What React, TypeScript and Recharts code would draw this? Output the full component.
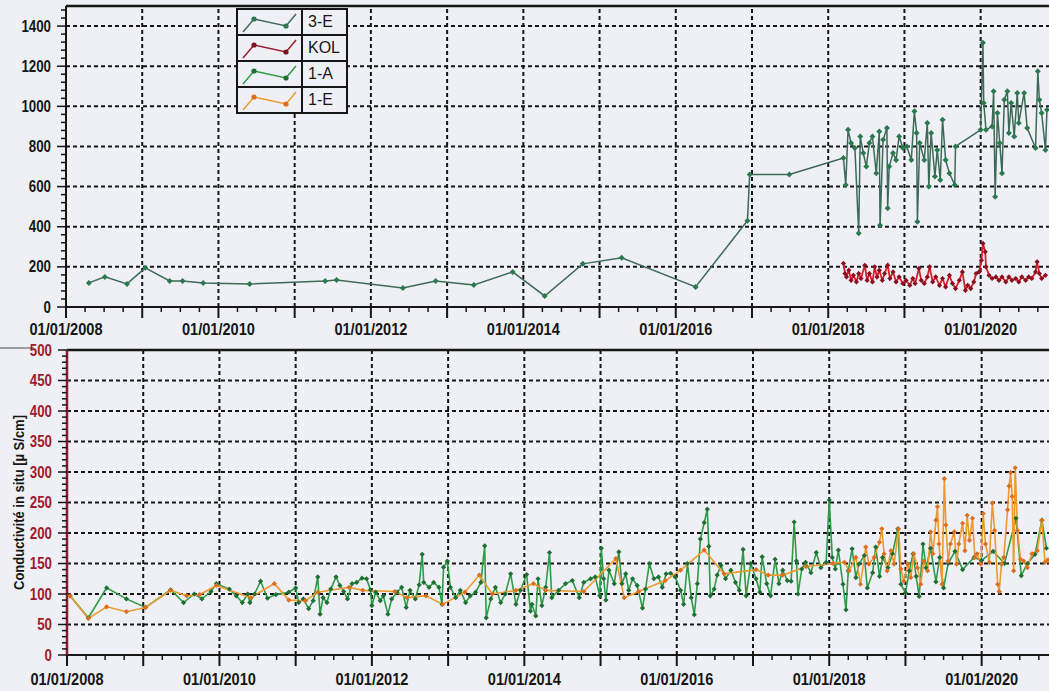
import React from 'react';
import { LineChart, Line, XAxis, YAxis, ReferenceLine, Legend } from 'recharts';

// axis labelling
const LABEL_YEARS = [2008, 2010, 2012, 2014, 2016, 2018, 2020];
const GRID_YEARS = [2009, 2010, 2011, 2012, 2013, 2014, 2015, 2016, 2017, 2018, 2019, 2020, 2021];
const TOP_Y_LABELS = [0, 200, 400, 600, 800, 1000, 1200, 1400];
const BOTTOM_Y_LABELS = [0, 50, 100, 150, 200, 250, 300, 350, 400, 450, 500];

const SERIES_NAMES = ['3-E', 'KOL', '1-A', '1-E'];
const SERIES_LINE = ['#3d6a57', '#9b1b2c', '#2e9b46', '#ec9a2e'];
const SERIES_DOT = ['#2a7a4e', '#7a1020', '#1e6f33', '#de6f1c'];

// 3-E (top panel)
const E3: [number, number][] = [
  [2008.30, 120], [2008.51, 150], [2008.80, 115], [2009.04, 195], [2009.36, 130], [2009.53, 130],
  [2009.80, 120], [2010.41, 115], [2011.40, 130], [2011.55, 135], [2012.42, 95], [2012.85, 130],
  [2013.35, 110], [2013.86, 175], [2014.28, 55], [2014.78, 215], [2015.29, 245], [2016.26, 100],
  [2016.94, 430], [2016.97, 660], [2017.49, 660], [2018.20, 742], [2018.23, 608], [2018.26, 883],
  [2018.30, 817], [2018.35, 792], [2018.40, 367], [2018.42, 850], [2018.46, 767], [2018.50, 700],
  [2018.54, 817], [2018.58, 850], [2018.63, 667], [2018.67, 875], [2018.68, 408], [2018.72, 833],
  [2018.77, 892], [2018.78, 492], [2018.80, 700], [2018.85, 767], [2018.89, 733], [2018.93, 850],
  [2018.98, 792], [2019.03, 800], [2019.09, 733], [2019.13, 975], [2019.16, 867], [2019.17, 425],
  [2019.20, 817], [2019.26, 733], [2019.30, 917], [2019.32, 600], [2019.35, 867], [2019.40, 650],
  [2019.43, 783], [2019.47, 633], [2019.50, 933], [2019.54, 733], [2019.59, 667], [2019.66, 608],
  [2019.67, 800], [2020.00, 883], [2020.03, 1317], [2020.04, 1017], [2020.07, 883], [2020.15, 900],
  [2020.17, 1075], [2020.19, 550], [2020.22, 967], [2020.25, 817], [2020.28, 667], [2020.31, 1033],
  [2020.35, 1075], [2020.37, 867], [2020.40, 1017], [2020.44, 850], [2020.48, 1067], [2020.50, 917],
  [2020.57, 1067], [2020.61, 892], [2020.72, 792], [2020.75, 1175], [2020.77, 1033], [2020.80, 967],
  [2020.85, 783], [2020.87, 983],
];

// KOL (top panel)
const KOL: [number, number][] = [
  [2018.20, 217], [2018.22, 167], [2018.24, 150], [2018.27, 183], [2018.30, 133], [2018.33, 158],
  [2018.37, 125], [2018.40, 167], [2018.43, 142], [2018.48, 208], [2018.51, 133], [2018.54, 167],
  [2018.58, 125], [2018.61, 200], [2018.64, 150], [2018.67, 183], [2018.71, 133], [2018.74, 167],
  [2018.78, 208], [2018.81, 142], [2018.85, 175], [2018.89, 125], [2018.93, 150], [2018.98, 117],
  [2019.02, 133], [2019.07, 108], [2019.11, 142], [2019.14, 117], [2019.19, 192], [2019.22, 133],
  [2019.26, 117], [2019.30, 150], [2019.33, 200], [2019.37, 125], [2019.41, 150], [2019.46, 108],
  [2019.50, 142], [2019.54, 100], [2019.59, 158], [2019.63, 117], [2019.67, 92], [2019.72, 133],
  [2019.76, 175], [2019.80, 83], [2019.83, 108], [2019.87, 92], [2019.91, 125], [2019.94, 167],
  [2019.98, 175], [2020.01, 233], [2020.03, 317], [2020.06, 275], [2020.07, 200], [2020.11, 158],
  [2020.15, 142], [2020.20, 150], [2020.24, 133], [2020.28, 150], [2020.33, 125], [2020.37, 150],
  [2020.41, 133], [2020.46, 142], [2020.50, 125], [2020.54, 150], [2020.59, 133], [2020.63, 150],
  [2020.67, 142], [2020.72, 175], [2020.74, 225], [2020.77, 167], [2020.80, 142], [2020.85, 158],
];

// 1-A (bottom panel)
const A1: [number, number][] = [
  [2008.04, 97], [2008.28, 61], [2008.52, 110], [2008.78, 92], [2009.03, 78], [2009.36, 107],
  [2009.53, 86], [2009.67, 100], [2009.77, 92], [2009.89, 104], [2009.96, 117], [2010.13, 108],
  [2010.22, 97], [2010.30, 86], [2010.37, 100], [2010.40, 86], [2010.46, 100], [2010.54, 121],
  [2010.63, 93], [2010.74, 99], [2010.91, 103], [2011.00, 110], [2011.04, 86], [2011.10, 92],
  [2011.17, 76], [2011.23, 89], [2011.29, 128], [2011.32, 67], [2011.36, 94], [2011.41, 86],
  [2011.46, 108], [2011.53, 128], [2011.58, 114], [2011.63, 104], [2011.68, 92], [2011.74, 117],
  [2011.80, 119], [2011.87, 126], [2011.93, 125], [2011.98, 107], [2012.00, 81], [2012.05, 103],
  [2012.11, 89], [2012.15, 97], [2012.21, 67], [2012.26, 92], [2012.33, 103], [2012.39, 111],
  [2012.45, 78], [2012.50, 106], [2012.57, 92], [2012.62, 115], [2012.66, 165], [2012.68, 119],
  [2012.75, 111], [2012.81, 119], [2012.88, 111], [2012.92, 83], [2012.94, 144], [2012.99, 154],
  [2013.03, 111], [2013.10, 94], [2013.16, 106], [2013.23, 86], [2013.29, 97], [2013.36, 103],
  [2013.43, 119], [2013.48, 179], [2013.50, 61], [2013.56, 92], [2013.62, 111], [2013.69, 86],
  [2013.75, 100], [2013.82, 133], [2013.89, 83], [2013.95, 106], [2014.03, 132], [2014.08, 72],
  [2014.10, 83], [2014.15, 64], [2014.18, 125], [2014.23, 81], [2014.28, 111], [2014.33, 168],
  [2014.36, 94], [2014.45, 106], [2014.54, 117], [2014.63, 122], [2014.72, 94], [2014.78, 119],
  [2014.87, 125], [2014.93, 128], [2014.99, 97], [2015.01, 175], [2015.04, 125], [2015.07, 90],
  [2015.11, 139], [2015.18, 117], [2015.24, 169], [2015.28, 117], [2015.33, 133], [2015.37, 106],
  [2015.42, 125], [2015.48, 114], [2015.55, 77], [2015.59, 108], [2015.64, 150], [2015.70, 125],
  [2015.76, 128], [2015.81, 111], [2015.86, 133], [2015.92, 134], [2015.98, 128], [2016.05, 106],
  [2016.09, 83], [2016.14, 150], [2016.19, 94], [2016.23, 66], [2016.27, 117], [2016.31, 190],
  [2016.36, 217], [2016.40, 239], [2016.42, 178], [2016.44, 97], [2016.49, 108], [2016.53, 131],
  [2016.58, 147], [2016.64, 125], [2016.71, 139], [2016.77, 119], [2016.82, 106], [2016.87, 173],
  [2016.91, 97], [2016.97, 150], [2017.04, 125], [2017.09, 103], [2017.12, 161], [2017.18, 117],
  [2017.23, 97], [2017.29, 157], [2017.34, 117], [2017.39, 139], [2017.45, 122], [2017.50, 121],
  [2017.54, 218], [2017.57, 154], [2017.59, 100], [2017.64, 141], [2017.69, 152], [2017.76, 135],
  [2017.83, 168], [2017.89, 143], [2017.96, 152], [2018.00, 254], [2018.04, 160], [2018.08, 141],
  [2018.12, 172], [2018.18, 116], [2018.22, 74], [2018.25, 138], [2018.30, 174], [2018.35, 127],
  [2018.39, 149], [2018.46, 163], [2018.50, 110], [2018.57, 135], [2018.61, 177], [2018.66, 129],
  [2018.70, 160], [2018.77, 143], [2018.83, 166], [2018.90, 207], [2018.94, 116], [2019.00, 102],
  [2019.05, 138], [2019.10, 166], [2019.14, 129], [2019.18, 96], [2019.23, 182], [2019.27, 143],
  [2019.33, 175], [2019.40, 120], [2019.45, 160], [2019.50, 110], [2019.56, 150], [2019.65, 170],
  [2019.75, 140], [2019.90, 160], [2020.00, 155], [2020.15, 170], [2020.30, 150], [2020.45, 224],
  [2020.52, 130], [2020.60, 150], [2020.70, 165], [2020.79, 221], [2020.85, 175],
];

// 1-E (bottom panel)
const E1: [number, number][] = [
  [2008.04, 97], [2008.28, 60], [2008.52, 79], [2008.78, 71], [2009.03, 78], [2009.36, 106],
  [2009.57, 97], [2009.74, 99], [2009.96, 114], [2010.41, 94], [2010.72, 117], [2010.91, 90],
  [2011.13, 89], [2011.29, 103], [2011.70, 111], [2011.88, 106], [2012.30, 104], [2012.46, 94],
  [2012.71, 97], [2012.93, 83], [2013.22, 103], [2013.41, 131], [2013.58, 100], [2013.89, 106],
  [2014.12, 117], [2014.28, 106], [2014.78, 104], [2015.20, 158], [2015.31, 94], [2015.50, 104],
  [2015.85, 122], [2016.05, 139], [2016.36, 172], [2016.62, 133], [2017.04, 140], [2017.20, 131],
  [2017.39, 131], [2017.70, 145], [2018.05, 150], [2018.20, 152], [2018.26, 138], [2018.35, 160],
  [2018.41, 116], [2018.48, 177], [2018.52, 149], [2018.59, 160], [2018.66, 185], [2018.69, 207],
  [2018.72, 166], [2018.76, 138], [2018.81, 171], [2018.85, 149], [2018.91, 207], [2018.94, 141],
  [2018.98, 121], [2019.03, 149], [2019.07, 127], [2019.11, 166], [2019.16, 143], [2019.20, 116],
  [2019.24, 154], [2019.29, 138], [2019.33, 202], [2019.36, 166], [2019.40, 221], [2019.42, 243],
  [2019.44, 182], [2019.48, 116], [2019.51, 289], [2019.53, 213], [2019.56, 154], [2019.59, 182],
  [2019.64, 202], [2019.67, 149], [2019.70, 182], [2019.75, 216], [2019.78, 171], [2019.81, 229],
  [2019.84, 188], [2019.88, 224], [2019.91, 160], [2019.94, 166], [2019.99, 149], [2020.02, 232],
  [2020.05, 182], [2020.10, 152], [2020.14, 249], [2020.17, 204], [2020.21, 116], [2020.23, 104],
  [2020.26, 149], [2020.29, 160], [2020.34, 238], [2020.36, 277], [2020.38, 299], [2020.40, 260],
  [2020.42, 138], [2020.44, 307], [2020.47, 204], [2020.51, 157], [2020.55, 154], [2020.60, 143],
  [2020.66, 166], [2020.73, 171], [2020.79, 221], [2020.83, 152], [2020.87, 156],
];

const pts = (a: [number, number][]) => a.map(([t, v]) => ({ t, v }));

const X_TICKS = Array.from({ length: 55 }, (_, i) => 2008 + i * 0.25);
const TOP_Y_TICKS = Array.from({ length: 38 }, (_, i) => i * 40);
const BOTTOM_Y_TICKS = Array.from({ length: 51 }, (_, i) => i * 10);

const NARROW = "'Liberation Sans Narrow','Arial Narrow','Liberation Sans',Arial,sans-serif";
const INK = '#161616';
const PAPER = '#eef0f5';
const DASH = '4 3';

const diamond = (fill: string, s: number) => (p: any) => {
  if (p.cx == null || p.cy == null) return <g key={`d-${p.index}`} />;
  return (
    <path
      key={`d-${p.index}`}
      d={`M${p.cx},${p.cy - s}L${p.cx + s},${p.cy}L${p.cx},${p.cy + s}L${p.cx - s},${p.cy}Z`}
      fill={fill}
    />
  );
};

const XTick = (props: any) => {
  const { x, y, payload, labelGap } = props;
  const v = payload.value;
  const yr = Math.round(v);
  const major = Math.abs(v - yr) < 1e-6;
  return (
    <g>
      <line x1={x} x2={x} y1={y} y2={y + (major ? 11 : 5)} stroke={INK} strokeWidth={major ? 2 : 1.5} />
      {major && LABEL_YEARS.includes(yr) && (
        <text
          x={x}
          y={y + labelGap}
          textAnchor="middle"
          fontFamily={NARROW}
          fontWeight="bold"
          fontSize={16}
          fill={INK}
          textLength={73}
          lengthAdjust="spacingAndGlyphs"
        >
          {`01/01/${yr}`}
        </text>
      )}
    </g>
  );
};

const YTick = (props: any) => {
  const { x, y, payload, step, color, labels } = props;
  const v = payload.value;
  const major = v % step === 0;
  const s = String(v);
  return (
    <g>
      <line x1={x - (major ? 9 : 5)} x2={x} y1={y} y2={y} stroke={INK} strokeWidth={1.5} />
      {major && labels.includes(v) && (
        <text
          x={x - 15}
          y={y + 5.5}
          textAnchor="end"
          fontFamily={NARROW}
          fontWeight="bold"
          fontSize={16}
          fill={color}
          textLength={s.length * 7.4}
          lengthAdjust="spacingAndGlyphs"
        >
          {s}
        </text>
      )}
    </g>
  );
};

const LegendBox = () => (
  <table
    style={{
      borderCollapse: 'collapse',
      tableLayout: 'fixed',
      width: 110,
      background: PAPER,
      fontFamily: "'Liberation Sans', Arial, sans-serif",
      fontSize: 16,
      color: INK,
    }}
  >
    <colgroup>
      <col style={{ width: 65 }} />
      <col style={{ width: 45 }} />
    </colgroup>
    <tbody>
      {SERIES_NAMES.map((name, i) => (
        <tr key={name} style={{ height: 26 }}>
          <td style={{ border: `2px solid ${INK}`, padding: 0 }}>
            <svg width={63} height={23} style={{ display: 'block' }}>
              <polyline points="5,21 16,8 48,15 58,3" fill="none" stroke={SERIES_LINE[i]} strokeWidth={1.5} />
              <circle cx={16} cy={8} r={2.6} fill={SERIES_DOT[i]} />
              <circle cx={48} cy={15} r={2.6} fill={SERIES_DOT[i]} />
            </svg>
          </td>
          <td style={{ border: `2px solid ${INK}`, padding: '0 2px 0 5px', lineHeight: '22px', whiteSpace: 'nowrap' }}>{name}</td>
        </tr>
      ))}
    </tbody>
  </table>
);

const App: React.FC = () => {
  return (
    <div style={{ position: 'absolute', left: 0, top: 0, width: 1049, height: 691, overflow: 'hidden', background: PAPER }}>
      <div style={{ position: 'absolute', left: 0, top: 347, width: 34, height: 2, background: '#9a9ca3' }} />
      <div style={{ position: 'absolute', left: 0, top: 0 }}>
        <LineChart width={1095} height={345} margin={{ top: 6, right: 0, bottom: 0, left: 0 }}>
          <XAxis
            type="number"
            dataKey="t"
            domain={[2008, 2021.5]}
            ticks={X_TICKS}
            interval={0}
            tickLine={false}
            tickSize={0}
            tickMargin={0}
            tick={<XTick labelGap={28} />}
            axisLine={{ stroke: INK, strokeWidth: 2 }}
            height={38}
            allowDataOverflow
          />
          <YAxis
            type="number"
            domain={[0, 1500]}
            ticks={TOP_Y_TICKS}
            interval={0}
            tickLine={false}
            tickSize={0}
            tickMargin={0}
            tick={<YTick step={200} color={INK} labels={TOP_Y_LABELS} />}
            axisLine={{ stroke: INK, strokeWidth: 2 }}
            width={66}
            allowDataOverflow
          />
          {GRID_YEARS.map((yr) => (
            <ReferenceLine key={`gx${yr}`} x={yr} stroke={INK} strokeWidth={2} strokeDasharray={DASH} />
          ))}
          {TOP_Y_LABELS.filter((v) => v > 0).map((v) => (
            <ReferenceLine key={`gy${v}`} y={v} stroke={INK} strokeWidth={2} strokeDasharray={DASH} />
          ))}
          <ReferenceLine y={1500} stroke={INK} strokeWidth={2.5} />
          <Line
            data={pts(E3)}
            dataKey="v"
            name="3-E"
            type="linear"
            stroke={SERIES_LINE[0]}
            strokeWidth={1.5}
            dot={diamond(SERIES_DOT[0], 3)}
            activeDot={false}
            isAnimationActive={false}
          />
          <Line
            data={pts(KOL)}
            dataKey="v"
            name="KOL"
            type="linear"
            stroke="#d8202c"
            strokeWidth={1.8}
            dot={diamond('#8a1020', 2.6)}
            activeDot={false}
            isAnimationActive={false}
          />
          <Legend
            layout="vertical"
            align="center"
            verticalAlign="middle"
            wrapperStyle={{ left: 236, top: 8, width: 'auto' }}
            content={() => <LegendBox />}
          />
        </LineChart>
      </div>
      <div style={{ position: 'absolute', left: 0, top: 340 }}>
        <LineChart width={1096} height={351} margin={{ top: 10, right: 0, bottom: 0, left: 0 }}>
          <XAxis
            type="number"
            dataKey="t"
            domain={[2008, 2021.5]}
            ticks={X_TICKS}
            interval={0}
            tickLine={false}
            tickSize={0}
            tickMargin={0}
            tick={<XTick labelGap={30} />}
            axisLine={{ stroke: INK, strokeWidth: 2 }}
            height={36}
            allowDataOverflow
          />
          <YAxis
            type="number"
            domain={[0, 500]}
            ticks={BOTTOM_Y_TICKS}
            interval={0}
            tickLine={false}
            tickSize={0}
            tickMargin={0}
            tick={<YTick step={50} color="#a01a2c" labels={BOTTOM_Y_LABELS} />}
            axisLine={{ stroke: '#8a1c2b', strokeWidth: 2.5 }}
            width={67}
            allowDataOverflow
            label={{
              content: (p: any) => {
                const vb = p.viewBox || { x: 0, y: 10, width: 67, height: 305 };
                const cx = vb.x + 19;
                const cy = vb.y + vb.height / 2;
                return (
                  <text
                    transform={`translate(${cx},${cy}) rotate(-90)`}
                    textAnchor="middle"
                    dominantBaseline="central"
                    fontFamily={NARROW}
                    fontWeight="bold"
                    fontSize={14}
                    fill={INK}
                    textLength={175}
                    lengthAdjust="spacingAndGlyphs"
                  >
                    Conductivité in situ [µ S/cm]
                  </text>
                );
              },
            }}
          />
          {GRID_YEARS.map((yr) => (
            <ReferenceLine key={`bx${yr}`} x={yr} stroke={INK} strokeWidth={2} strokeDasharray={DASH} />
          ))}
          {BOTTOM_Y_LABELS.filter((v) => v > 0 && v < 500).map((v) => (
            <ReferenceLine key={`by${v}`} y={v} stroke={INK} strokeWidth={2} strokeDasharray={DASH} />
          ))}
          <ReferenceLine y={500} stroke={INK} strokeWidth={2.5} />
          <Line
            data={pts(A1)}
            dataKey="v"
            name="1-A"
            type="linear"
            stroke={SERIES_LINE[2]}
            strokeWidth={1.6}
            dot={diamond(SERIES_DOT[2], 2.6)}
            activeDot={false}
            isAnimationActive={false}
          />
          <Line
            data={pts(E1)}
            dataKey="v"
            name="1-E"
            type="linear"
            stroke={SERIES_LINE[3]}
            strokeWidth={1.6}
            dot={diamond(SERIES_DOT[3], 2.6)}
            activeDot={false}
            isAnimationActive={false}
          />
        </LineChart>
      </div>
    </div>
  );
};

export default App;
